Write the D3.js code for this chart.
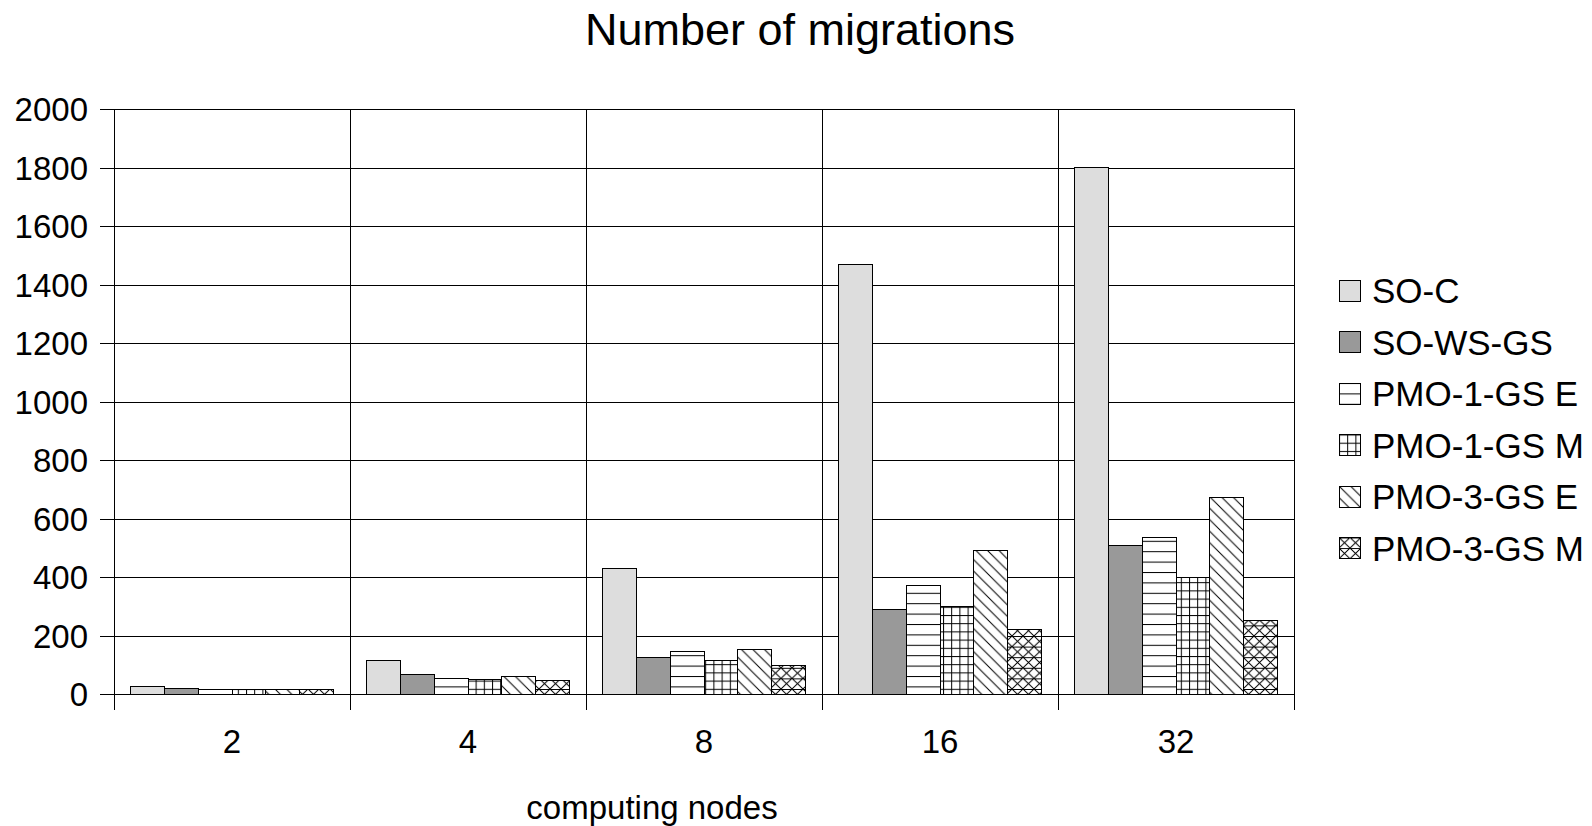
<!DOCTYPE html>
<html>
<head>
    <title>Number of migrations</title>
    <script type="text/javascript" src="https://d3js.org/d3.v7.min.js"></script>
    <style>
	body {
		margin: 0;
		background: #fff;
	}
	svg text {
		font-family: "Liberation Sans", Arial, sans-serif;
		fill: #000;
	}
	.grid line {
		stroke: #000;
		stroke-width: 1;
		shape-rendering: crispEdges;
	}
	.bar {
		stroke: #000;
		stroke-width: 1;
		shape-rendering: crispEdges;
	}
    </style>
</head>
<body>
<script>

	// ---------------------- data ----------------------
	var categories = ["2", "4", "8", "16", "32"];
	var seriesNames = ["SO-C", "SO-WS-GS", "PMO-1-GS E", "PMO-1-GS M", "PMO-3-GS E", "PMO-3-GS M"];
	var soC      = [24, 116, 428, 1468, 1800];
	var soWsGs   = [20, 65, 125, 290, 507];
	var pmo1GsE  = [14, 52, 144, 372, 534];
	var pmo1GsM  = [16, 49, 115, 300, 398];
	var pmo3GsE  = [16, 60, 153, 489, 671];
	var pmo3GsM  = [14, 45, 98, 222, 251];
	var yTicks   = [0, 200, 400, 600, 800, 1000, 1200, 1400, 1600, 1800, 2000];

	var seriesValues = [soC, soWsGs, pmo1GsE, pmo1GsM, pmo3GsE, pmo3GsM];
	// fill for each series: plain grey or a hatch pattern id
	var seriesFill = ["#dddddd", "#999999", "url(#hlines)", "url(#grid)", "url(#diag)", "url(#cross)"];

	var width = 1592, height = 826;
	// plot area edges (window.top is reserved, so use own names)
	var plotLeft = 114, plotRight = 1294, plotTop = 109, plotBottom = 694;

	var svg = d3.select("body").append("svg")
		.attr("width", width)
		.attr("height", height);

	svg.append("rect").attr("width", width).attr("height", height).attr("fill", "#fff");

	//
	// hatch patterns
	//
	var defs = svg.append("defs");

	var p = defs.append("pattern").attr("id", "hlines")
		.attr("patternUnits", "userSpaceOnUse").attr("width", 10).attr("height", 10.4);
	p.append("rect").attr("width", 10).attr("height", 10.4).attr("fill", "#fff");
	p.append("line").attr("x1", 0).attr("x2", 10).attr("y1", 0.5).attr("y2", 0.5).attr("stroke", "#000").attr("stroke-width", 1);

	p = defs.append("pattern").attr("id", "grid")
		.attr("patternUnits", "userSpaceOnUse").attr("width", 8.2).attr("height", 8.2);
	p.append("rect").attr("width", 8.2).attr("height", 8.2).attr("fill", "#fff");
	p.append("line").attr("x1", 0).attr("x2", 8.2).attr("y1", 0.5).attr("y2", 0.5).attr("stroke", "#000").attr("stroke-width", 1);
	p.append("line").attr("y1", 0).attr("y2", 8.2).attr("x1", 0.5).attr("x2", 0.5).attr("stroke", "#000").attr("stroke-width", 1);

	p = defs.append("pattern").attr("id", "diag")
		.attr("patternUnits", "userSpaceOnUse").attr("width", 11.5).attr("height", 11.5);
	p.append("rect").attr("width", 11.5).attr("height", 11.5).attr("fill", "#fff");
	p.append("path").attr("d", "M-2,-2 L13.5,13.5 M-2,9.5 L2,13.5 M9.5,-2 L13.5,2")
		.attr("stroke", "#000").attr("stroke-width", 1);

	p = defs.append("pattern").attr("id", "cross")
		.attr("patternUnits", "userSpaceOnUse").attr("width", 11).attr("height", 10.6);
	p.append("rect").attr("width", 11).attr("height", 10.6).attr("fill", "#fff");
	p.append("path").attr("d", "M0,0 L11,10.6 M11,0 L0,10.6 M0,0.5 L11,0.5")
		.attr("stroke", "#000").attr("stroke-width", 1);

	//
	// scales
	//
	var x0 = d3.scaleBand().domain(categories).range([plotLeft, plotRight]);
	var x1 = d3.scaleBand().domain(seriesNames).range([0, x0.bandwidth()]).paddingOuter(0.5);
	var y = d3.scaleLinear().domain([0, 2000]).range([plotBottom, plotTop]);

	//
	// grid lines
	//
	var grid = svg.append("g").attr("class", "grid");
	grid.selectAll(".hgrid").data(yTicks).enter().append("line")
		.attr("class", "hgrid")
		.attr("x1", plotLeft - 14).attr("x2", plotRight)
		.attr("y1", function (d){ return Math.round(y(d)) + 0.5 })
		.attr("y2", function (d){ return Math.round(y(d)) + 0.5 });

	var bounds = categories.map(function (c){ return x0(c) }).concat([plotRight]);
	grid.selectAll(".vgrid").data(bounds).enter().append("line")
		.attr("class", "vgrid")
		.attr("x1", function (d){ return Math.round(d) + 0.5 })
		.attr("x2", function (d){ return Math.round(d) + 0.5 })
		.attr("y1", plotTop).attr("y2", plotBottom + 16);

	// y tick labels
	svg.selectAll(".ylab").data(yTicks).enter().append("text")
		.attr("class", "ylab")
		.attr("x", 88)
		.attr("y", function (d){ return y(d) + 12 })
		.attr("text-anchor", "end")
		.style("font-size", "33px")
		.text(function (d){ return d });

	// x tick labels
	svg.selectAll(".xlab").data(categories).enter().append("text")
		.attr("class", "xlab")
		.attr("x", function (d){ return x0(d) + x0.bandwidth() / 2 })
		.attr("y", 753)
		.attr("text-anchor", "middle")
		.style("font-size", "33px")
		.text(function (d){ return d });

	//
	// bars
	//
	seriesNames.forEach(function (s, i){
		svg.append("g").selectAll("rect").data(seriesValues[i]).enter().append("rect")
			.attr("class", "bar")
			.attr("x", function (d, j){ return x0(categories[j]) + x1(s) })
			.attr("y", function (d){ return y(d) })
			.attr("width", x1.bandwidth())
			.attr("height", function (d){ return y(0) - y(d) })
			.attr("fill", seriesFill[i]);
	});

	//
	// titles
	//
	svg.append("text").text("Number of migrations")
		.attr("x", 800).attr("y", 45)
		.attr("text-anchor", "middle")
		.style("font-size", "45px");

	svg.append("text").text("computing nodes")
		.attr("x", 652).attr("y", 819)
		.attr("text-anchor", "middle")
		.style("font-size", "33px");

	//
	// legend
	//
	var legend = svg.append("g").attr("transform", "translate(1339,280)");
	var item = legend.selectAll("g").data(seriesNames).enter().append("g")
		.attr("transform", function (d, i){ return "translate(0," + (i * 51.5) + ")" });
	item.append("rect")
		.attr("class", "bar")
		.attr("width", 21).attr("height", 21)
		.attr("fill", function (d, i){ return seriesFill[i] });
	item.append("text")
		.attr("x", 33).attr("y", 23)
		.style("font-size", "35px")
		.text(function (d){ return d });

</script>
</body>
</html>
